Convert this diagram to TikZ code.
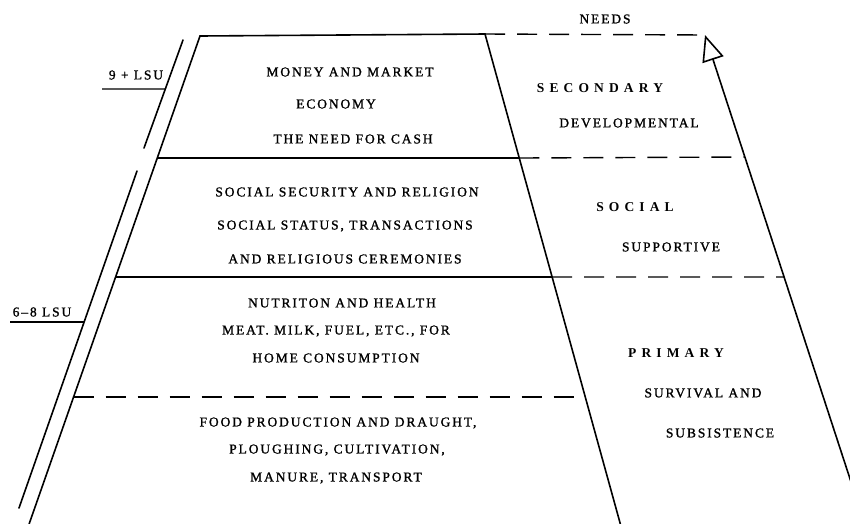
\documentclass[tikz,border=0pt]{standalone}
\usepackage{fontspec}
\setmainfont{Liberation Serif}
\newfontfamily\bodyfont{Liberation Serif}[LetterSpace=14, FakeBold=1.2]
\newfontfamily\headfont{Liberation Serif}[LetterSpace=38]
\usetikzlibrary{arrows.meta}

\begin{document}
\begin{tikzpicture}[x=1pt,y=-1pt,
  edge/.style={line width=1.6pt, line cap=round},
  rung/.style={line width=1.4pt},
  dashrung/.style={line width=1.4pt, dash pattern=on 20pt off 12pt},
  tick/.style={line width=1.3pt},
  txt/.style={font=\bodyfont\fontsize{13.5}{13.5}\selectfont, inner sep=0pt},
  head/.style={font=\headfont\bfseries\fontsize{13.5}{13.5}\selectfont, inner sep=0pt}
]
\useasboundingbox (0,0) rectangle (850,523);
\clip (0,0) rectangle (850,523);

% frame of the ladder
\coordinate (Ltop) at (200,36);
\coordinate (Lbot) at (27,530);
\coordinate (Rtop) at (485,34);
\coordinate (Rbot) at (622,530);
\coordinate (Obot) at (870,540);
\coordinate (Otip) at (705,35);

% rung end points
\coordinate (La) at (intersection of Ltop--Lbot and {0,158}--{1,158});
\coordinate (Ra) at (intersection of Rtop--Rbot and {0,158}--{1,158});
\coordinate (Oa) at (intersection of Obot--Otip and {0,157}--{1,157});
\coordinate (Lb) at (intersection of Ltop--Lbot and {0,277}--{1,277});
\coordinate (Rb) at (intersection of Rtop--Rbot and {0,277}--{1,277});
\coordinate (Ob) at (intersection of Obot--Otip and {0,277}--{1,277});
\coordinate (Lc) at (intersection of Ltop--Lbot and {0,397}--{1,397});
\coordinate (Rc) at (intersection of Rtop--Rbot and {0,397}--{1,397});

% sides
\draw[edge] (Lbot) -- (Ltop) -- (Rtop) -- (Rbot);
\draw[edge, -{Triangle[open, length=26pt, width=22pt]}] (Obot) -- (Otip);

% rungs
\draw[dashrung] (Rtop) -- (Otip);
\draw[rung] (La) -- (Ra);
\draw[dashrung] (Ra) -- (Oa);
\draw[rung] (Lb) -- (Rb);
\draw[dashrung] (Rb) -- (Ob);
\draw[dashrung] (Lc) -- (Rc);

% livestock unit brackets
\coordinate (Ua) at (183,40);
\coordinate (Ub) at (144,148);
\coordinate (Uc) at (137,171);
\coordinate (Ud) at (19,508);
\coordinate (Ta) at (102,89);
\coordinate (Tb) at (10,322);
\draw[edge] (Ua) -- (Ub);
\draw[edge] (Uc) -- (Ud);
\draw[tick] (Ta) -- (intersection of Ua--Ub and Ta--{200,89});
\draw[tick] (Tb) -- (intersection of Uc--Ud and Tb--{200,322});
\node[txt] (lsu9) at (136,75) {9 + LSU};
\node[txt] (lsu68) at (42,312) {6–8 LSU};

% uses of livestock
\node[txt] (t1) at (350,72) {MONEY AND MARKET};
\node[txt] (t2) at (336,104) {ECONOMY};
\node[txt] (t3) at (353,139) {THE NEED FOR CASH};
\node[txt] (t4) at (347,192) {SOCIAL SECURITY AND RELIGION};
\node[txt] (t5) at (345,226) {SOCIAL STATUS, TRANSACTIONS};
\node[txt] (t6) at (345,259) {AND RELIGIOUS CEREMONIES};
\node[txt] (t7) at (342,303) {NUTRITON AND HEALTH};
\node[txt] (t8) at (336,331) {MEAT. MILK, FUEL, ETC., FOR};
\node[txt] (t9) at (336,358) {HOME CONSUMPTION};
\node[txt] (t10) at (338,423) {FOOD PRODUCTION AND DRAUGHT,};
\node[txt] (t11) at (337,450) {PLOUGHING, CULTIVATION,};
\node[txt] (t12) at (336,478) {MANURE, TRANSPORT};

% levels of need
\node[txt] (needs) at (605,19) {NEEDS};
\node[head] (h1) at (600,88) {SECONDARY};
\node[txt] (s1) at (629,123) {DEVELOPMENTAL};
\node[head] (h2) at (635,207) {SOCIAL};
\node[txt] (s2) at (671,247) {SUPPORTIVE};
\node[head] (h3) at (676,353) {PRIMARY};
\node[txt] (s3) at (703,393) {SURVIVAL AND};
\node[txt] (s4) at (720,433) {SUBSISTENCE};
\end{tikzpicture}
\end{document}
